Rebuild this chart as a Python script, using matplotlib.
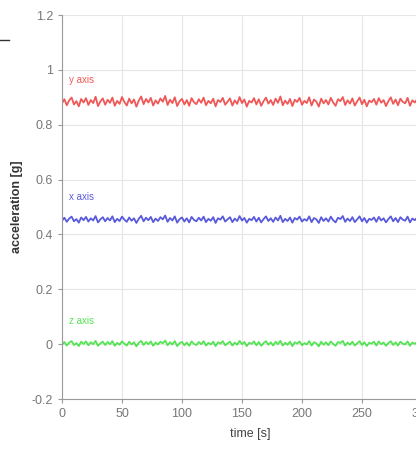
import numpy as np
import matplotlib
matplotlib.use('Agg')
import matplotlib.pyplot as plt
from matplotlib.lines import Line2D

plt.rcParams['font.family'] = ['Liberation Sans Narrow', 'Liberation Sans', 'DejaVu Sans']

# time axis, one sample every 2 s
time = np.arange(0, 301, 2)

y_axis = [0.878, 0.893, 0.871, 0.889, 0.899, 0.874, 0.886, 0.867, 0.894, 0.881,
          0.897, 0.872, 0.890, 0.879, 0.902, 0.868, 0.885, 0.896, 0.873, 0.891,
          0.880, 0.899, 0.869, 0.887, 0.876, 0.901, 0.883, 0.870, 0.895, 0.878,
          0.892, 0.866, 0.888, 0.903, 0.875, 0.894, 0.881, 0.898, 0.870, 0.889,
          0.877, 0.896, 0.884, 0.905, 0.872, 0.891, 0.879, 0.900, 0.868, 0.886,
          0.894, 0.874, 0.890, 0.869, 0.897, 0.882, 0.875, 0.893, 0.880, 0.899,
          0.871, 0.887, 0.878, 0.895, 0.867, 0.890, 0.883, 0.898, 0.873, 0.884,
          0.896, 0.870, 0.889, 0.876, 0.901, 0.879, 0.892, 0.866, 0.887, 0.881,
          0.897, 0.874, 0.893, 0.869, 0.886, 0.899, 0.877, 0.890, 0.872, 0.895,
          0.880, 0.903, 0.871, 0.888, 0.876, 0.894, 0.868, 0.891, 0.883, 0.898,
          0.873, 0.887, 0.879, 0.900, 0.870, 0.892, 0.884, 0.866, 0.895, 0.878,
          0.890, 0.874, 0.898, 0.881, 0.869, 0.893, 0.886, 0.901, 0.872, 0.889,
          0.877, 0.896, 0.870, 0.885, 0.899, 0.875, 0.891, 0.867, 0.888, 0.882,
          0.894, 0.873, 0.897, 0.880, 0.890, 0.868, 0.886, 0.900, 0.876, 0.892,
          0.871, 0.895, 0.883, 0.878, 0.898, 0.869, 0.889, 0.881, 0.893, 0.874,
          0.887]

x_axis = [0.450, 0.461, 0.446, 0.458, 0.465, 0.448, 0.456, 0.443, 0.462, 0.452,
          0.464, 0.447, 0.459, 0.451, 0.467, 0.444, 0.455, 0.463, 0.448, 0.460,
          0.451, 0.466, 0.445, 0.457, 0.449, 0.465, 0.454, 0.446, 0.462, 0.450,
          0.459, 0.442, 0.457, 0.468, 0.448, 0.461, 0.452, 0.464, 0.445, 0.458,
          0.449, 0.463, 0.455, 0.469, 0.446, 0.460, 0.451, 0.466, 0.443, 0.456,
          0.462, 0.447, 0.459, 0.444, 0.464, 0.453, 0.448, 0.461, 0.451, 0.465,
          0.445, 0.457, 0.450, 0.463, 0.442, 0.459, 0.454, 0.466, 0.447, 0.455,
          0.463, 0.445, 0.458, 0.449, 0.467, 0.451, 0.460, 0.443, 0.457, 0.452,
          0.464, 0.447, 0.461, 0.444, 0.456, 0.466, 0.449, 0.459, 0.446, 0.462,
          0.451, 0.468, 0.445, 0.457, 0.449, 0.462, 0.443, 0.460, 0.454, 0.465,
          0.447, 0.456, 0.450, 0.466, 0.445, 0.460, 0.455, 0.442, 0.463, 0.449,
          0.459, 0.447, 0.465, 0.452, 0.444, 0.461, 0.456, 0.467, 0.446, 0.458,
          0.449, 0.463, 0.445, 0.455, 0.466, 0.448, 0.460, 0.443, 0.457, 0.453,
          0.462, 0.446, 0.464, 0.451, 0.459, 0.444, 0.456, 0.466, 0.448, 0.460,
          0.445, 0.463, 0.454, 0.450, 0.465, 0.444, 0.458, 0.452, 0.461, 0.447,
          0.456]

z_axis = [-0.002, 0.008, -0.005, 0.006, 0.011, -0.003, 0.004, -0.007, 0.009, 0.001,
          0.010, -0.004, 0.007, 0.000, 0.012, -0.006, 0.003, 0.009, -0.003, 0.008,
          0.000, 0.011, -0.006, 0.005, -0.002, 0.010, 0.002, -0.005, 0.009, -0.001,
          0.007, -0.008, 0.005, 0.012, -0.003, 0.008, 0.000, 0.010, -0.006, 0.006,
          -0.001, 0.009, 0.003, 0.013, -0.004, 0.007, -0.001, 0.011, -0.007, 0.004,
          0.008, -0.004, 0.006, -0.006, 0.010, 0.001, -0.003, 0.008, 0.000, 0.011,
          -0.005, 0.005, -0.001, 0.009, -0.007, 0.007, 0.002, 0.011, -0.004, 0.003,
          0.009, -0.005, 0.006, -0.002, 0.012, 0.000, 0.008, -0.007, 0.005, 0.001,
          0.010, -0.004, 0.008, -0.006, 0.004, 0.011, -0.002, 0.007, -0.005, 0.009,
          0.000, 0.012, -0.005, 0.005, -0.002, 0.009, -0.007, 0.007, 0.002, 0.010,
          -0.004, 0.004, -0.001, 0.011, -0.005, 0.007, 0.003, -0.008, 0.009, -0.002,
          0.007, -0.004, 0.010, 0.001, -0.006, 0.008, 0.004, 0.012, -0.005, 0.006,
          -0.002, 0.009, -0.005, 0.003, 0.011, -0.003, 0.007, -0.007, 0.005, 0.002,
          0.009, -0.005, 0.010, 0.000, 0.006, -0.006, 0.004, 0.011, -0.003, 0.007,
          -0.005, 0.009, 0.002, -0.001, 0.010, -0.006, 0.006, 0.001, 0.008, -0.004,
          0.004]

series_names = ['y axis', 'x axis', 'z axis']
series_colors = ['#ee3a3a', '#3c3cd6', '#36e036']
xticks = [0, 50, 100, 150, 200, 250, 300]
yticks = [-0.2, 0, 0.2, 0.4, 0.6, 0.8, 1, 1.2]
ytick_labels = ['-0.2', '0', '0.2', '0.4', '0.6', '0.8', '1', '1.2']

fig = plt.figure(figsize=(4.16, 4.55), dpi=100)
ax = fig.add_axes([0.149, 0.123, 1.0096, 0.844])

for vals, name, col in zip([y_axis, x_axis, z_axis], series_names, series_colors):
    ax.plot(time, vals, color=col, lw=1.3, alpha=0.85)
    ax.text(6, np.mean(vals) + 0.08, name, color=col, fontsize=7, alpha=0.85,
            va='center', ha='left')

ax.set_xlim(0, 350)
ax.set_ylim(-0.2, 1.2)
ax.set_xticks(xticks)
ax.set_yticks(yticks)
ax.set_yticklabels(ytick_labels)
ax.grid(True, color='#e6e6e6', lw=0.8)
ax.set_axisbelow(True)
for s in ['top', 'right']:
    ax.spines[s].set_visible(False)
for s in ['left', 'bottom']:
    ax.spines[s].set_color('#9a9a9a')
ax.tick_params(colors='#9a9a9a', labelcolor='#777777', labelsize=9, length=3, direction='out')

ax.set_xlabel('time [s]', fontsize=9, color='#444444')
ax.xaxis.set_label_coords(0.448, -0.075)
ax.set_ylabel('acceleration [g]', fontsize=9, color='#333333', fontweight='bold', labelpad=6)

fig.add_artist(Line2D([0, 0.022], [0.912, 0.912], color='#333333', lw=1))

fig.savefig('out.png', dpi=100)
